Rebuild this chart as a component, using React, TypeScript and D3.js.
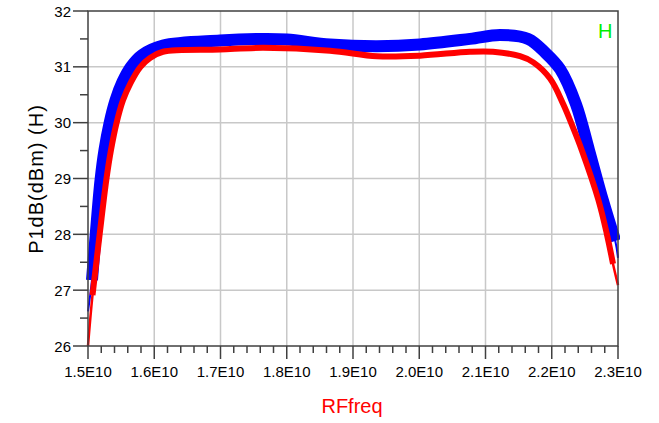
import React from "react";
import * as d3 from "d3";

const freqBlue = [1.5, 1.506, 1.5118, 1.5189, 1.5249, 1.5325, 1.5415, 1.5521, 1.5649, 1.5815, 1.6132, 1.6992, 1.7642, 1.8004, 1.8653, 1.9362, 2.0011, 2.0766, 2.1219, 2.1645, 2.1905, 2.2125, 2.2366, 2.2562, 2.2769, 2.2959, 2.3];
const valBlue = [26.62, 27.18, 28.02, 28.97, 29.51, 29.99, 30.4, 30.73, 31.0, 31.21, 31.38, 31.47, 31.5, 31.49, 31.4, 31.37, 31.4, 31.5, 31.57, 31.5, 31.25, 30.96, 30.33, 29.51, 28.62, 27.88, 27.58];

const freqRed = [1.5, 1.5068, 1.5178, 1.5276, 1.5347, 1.543, 1.5528, 1.5642, 1.5792, 1.5936, 1.6132, 1.6992, 1.7642, 1.8653, 1.9362, 2.0011, 2.0766, 2.1113, 2.1521, 2.1722, 2.1974, 2.2174, 2.2325, 2.2452, 2.2703, 2.2829, 2.2925, 2.3];
const valRed = [26.0, 26.91, 28.02, 28.97, 29.51, 29.99, 30.4, 30.71, 31.0, 31.16, 31.27, 31.31, 31.34, 31.29, 31.19, 31.2, 31.27, 31.27, 31.19, 31.08, 30.79, 30.33, 29.9, 29.51, 28.62, 28.02, 27.47, 27.09];

const xTicks = [1.5, 1.6, 1.7, 1.8, 1.9, 2.0, 2.1, 2.2, 2.3];
const yTicks = [26, 27, 28, 29, 30, 31, 32];

const FONT = "'Liberation Sans', Arial, sans-serif";

export default function App() {
  const left = 88, right = 618, top = 11, bottom = 346;
  const x = d3.scaleLinear().domain([1.5, 2.3]).range([left, right]);
  const y = d3.scaleLinear().domain([26, 32]).range([bottom, top]);

  const line = d3
    .line<[number, number]>()
    .x((d) => x(d[0]))
    .y((d) => y(d[1]))
    .curve(d3.curveCatmullRom.alpha(0.5));

  const blue: [number, number][] = freqBlue.map((f, i) => [f, valBlue[i]]);
  const red: [number, number][] = freqRed.map((f, i) => [f, valRed[i]]);

  const minorX = d3.range(0, 41).map((i) => 1.5 + i * 0.02).filter((v) => Math.abs(v * 10 - Math.round(v * 10)) > 1e-6);
  const minorY = d3.range(26.5, 32, 1);

  const axisColor = "#404040";
  const gridColor = "#c8c8c8";

  return (
    <svg width={659} height={423} style={{ position: "absolute", left: 0, top: 0, display: "block" }}>
      <rect x={0} y={0} width={659} height={423} fill="#fff" />
      {xTicks.slice(1, -1).map((t) => (
        <line key={"gx" + t} x1={x(t)} x2={x(t)} y1={top} y2={bottom} stroke={gridColor} strokeWidth={1.5} />
      ))}
      {yTicks.slice(1, -1).map((t) => (
        <line key={"gy" + t} x1={left} x2={right} y1={y(t)} y2={y(t)} stroke={gridColor} strokeWidth={1.5} />
      ))}
      <defs>
        <clipPath id="plotclip">
          <rect x={left - 6} y={top} width={right - left + 8} height={bottom - top} />
        </clipPath>
      </defs>
      <g clipPath="url(#plotclip)">
        <path d={line(blue) || ""} fill="none" stroke="#0000ff" strokeWidth={2} />
        <path d={line(blue.slice(1, -1)) || ""} fill="none" stroke="#0000ff" strokeWidth={12} strokeLinecap="butt" strokeLinejoin="round" />
        <path d={line(red) || ""} fill="none" stroke="#ff0000" strokeWidth={2.5} />
        <path d={line(red.slice(1, -1)) || ""} fill="none" stroke="#ff0000" strokeWidth={6} strokeLinecap="butt" strokeLinejoin="round" />
      </g>
      <rect x={left} y={top} width={right - left} height={bottom - top} fill="none" stroke={axisColor} strokeWidth={1.5} />
      {yTicks.map((t) => (
        <g key={"yt" + t}>
          <line x1={left - 15} x2={left} y1={y(t)} y2={y(t)} stroke={axisColor} strokeWidth={1.5} />
          <text x={71} y={y(t) + 5.5} textAnchor="end" fontFamily={FONT} fontSize={15} fill="#000">
            {t}
          </text>
        </g>
      ))}
      {minorY.map((t) => (
        <line key={"ym" + t} x1={left - 8} x2={left} y1={y(t)} y2={y(t)} stroke={axisColor} strokeWidth={1.5} />
      ))}
      {xTicks.map((t) => (
        <g key={"xt" + t}>
          <line x1={x(t)} x2={x(t)} y1={bottom} y2={bottom + 13} stroke={axisColor} strokeWidth={1.5} />
          <text x={x(t)} y={377} textAnchor="middle" fontFamily={FONT} fontSize={15} fill="#000">
            {t.toFixed(1) + "E10"}
          </text>
        </g>
      ))}
      {minorX.map((t) => (
        <line key={"xm" + t.toFixed(2)} x1={x(t)} x2={x(t)} y1={bottom} y2={bottom + 7} stroke={axisColor} strokeWidth={1.5} />
      ))}
      <text x={352} y={413} textAnchor="middle" fontFamily={FONT} fontSize={20} fill="#ff0000">
        RFfreq
      </text>
      <text transform="translate(43,179) rotate(-90)" textAnchor="middle" fontFamily={FONT} fontSize={20} letterSpacing={1} fill="#000">
        {"P1dB(dBm)  (H)"}
      </text>
      <text x={598} y={38} fontFamily={FONT} fontSize={20} fill="#00ee00">
        H
      </text>
    </svg>
  );
}
